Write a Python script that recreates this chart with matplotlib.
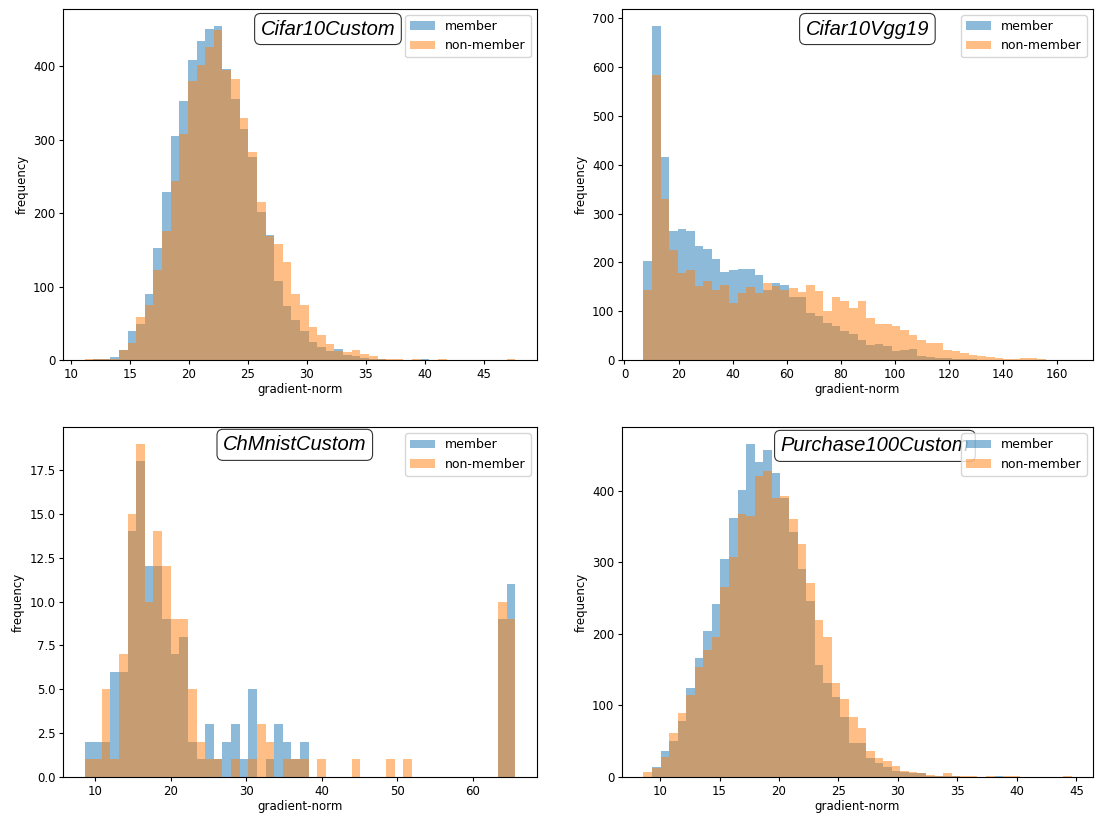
import numpy as np
import matplotlib
matplotlib.use("Agg")
import matplotlib.pyplot as plt

# ---------------- data ----------------
titles = ["Cifar10Custom", "Cifar10Vgg19", "ChMnistCustom", "Purchase100Custom"]
series_labels = ["member", "non-member"]
x_label = "gradient-norm"
y_label = "frequency"

# bin ranges (first edge, last edge), 50 bins each
range_cifar10custom = (11.16, 47.67)
range_cifar10vgg19 = (7.0, 165.5)
range_chmnist = (8.55, 65.65)
range_purchase = (8.6, 44.6)

member_cifar10custom = [0, 1, 2, 4, 14, 40, 49, 90, 152, 228, 305, 353, 408, 434, 451, 455, 396, 355, 314, 276,
                        202, 170, 108, 74, 55, 40, 24, 18, 12, 15, 7, 5, 3, 2, 1, 0, 0, 0, 0, 1,
                        0, 0, 0, 0, 0, 0, 0, 0, 0, 0]
nonmember_cifar10custom = [1, 1, 1, 2, 13, 23, 58, 75, 123, 176, 243, 307, 380, 401, 426, 449, 395, 383, 330, 283,
                           215, 169, 158, 133, 90, 75, 45, 34, 22, 12, 11, 13, 8, 5, 2, 1, 1, 0, 1, 0,
                           0, 1, 0, 0, 0, 0, 0, 0, 0, 1]

member_cifar10vgg19 = [202, 685, 417, 264, 269, 264, 233, 228, 207, 180, 184, 187, 187, 174, 144, 158, 154, 129, 129, 97,
                       91, 75, 69, 60, 54, 40, 30, 32, 28, 18, 20, 22, 8, 7, 5, 4, 3, 2, 2, 1,
                       1, 0, 0, 0, 0, 0, 0, 0, 0, 1]
nonmember_cifar10vgg19 = [144, 583, 329, 226, 178, 185, 151, 161, 144, 153, 117, 137, 149, 137, 158, 151, 144, 148, 139, 154,
                          142, 100, 129, 120, 106, 120, 86, 74, 74, 70, 62, 52, 42, 34, 34, 20, 19, 15, 10, 8,
                          6, 4, 2, 3, 5, 4, 2, 0, 0, 0]

member_chmnist = [2, 2, 2, 6, 6, 14, 18, 12, 12, 9, 7, 8, 2, 1, 3, 1, 2, 3, 1, 5,
                  0, 1, 3, 2, 1, 2, 0, 0, 0, 0, 0, 0, 0, 0, 0, 0, 0, 0, 0, 0,
                  0, 0, 0, 0, 0, 0, 0, 0, 9, 11]
nonmember_chmnist = [1, 1, 5, 1, 7, 15, 19, 10, 14, 12, 9, 9, 5, 2, 1, 1, 0, 1, 0, 1,
                     3, 2, 0, 1, 1, 1, 0, 1, 0, 0, 0, 1, 0, 0, 0, 1, 0, 1, 0, 0,
                     0, 0, 0, 0, 0, 0, 0, 0, 10, 9]

member_purchase = [0, 14, 37, 50, 78, 125, 166, 204, 242, 305, 362, 401, 466, 441, 457, 425, 390, 343, 291, 246,
                   157, 132, 112, 84, 47, 47, 26, 19, 14, 9, 7, 6, 6, 2, 1, 1, 1, 0, 0, 0,
                   0, 1, 0, 0, 0, 0, 0, 0, 0, 0]
nonmember_purchase = [7, 12, 28, 62, 90, 114, 154, 177, 196, 266, 308, 368, 365, 421, 428, 390, 393, 361, 326, 271,
                      220, 196, 132, 109, 84, 68, 37, 26, 23, 16, 9, 7, 6, 3, 1, 5, 2, 1, 1, 0,
                      1, 0, 1, 1, 0, 0, 0, 0, 0, 1]

xticks_cifar10custom = [10, 15, 20, 25, 30, 35, 40, 45]
xticks_cifar10vgg19 = [0, 20, 40, 60, 80, 100, 120, 140, 160]
xticks_chmnist = [10, 20, 30, 40, 50, 60]
xticks_purchase = [10, 15, 20, 25, 30, 35, 40, 45]

panels = [
    (range_cifar10custom, member_cifar10custom, nonmember_cifar10custom, xticks_cifar10custom),
    (range_cifar10vgg19, member_cifar10vgg19, nonmember_cifar10vgg19, xticks_cifar10vgg19),
    (range_chmnist, member_chmnist, nonmember_chmnist, xticks_chmnist),
    (range_purchase, member_purchase, nonmember_purchase, xticks_purchase),
]

# ---------------- layout / style ----------------
W, H = 1096, 817
fig = plt.figure(figsize=(W / 100, H / 100), dpi=100)

# axes boxes in pixels: left, top, right, bottom
boxes = [(63, 9, 537, 360), (622, 9, 1093, 360), (63, 427, 537, 777), (622, 427, 1093, 777)]
title_pos = [(0.559, 0.943), (0.521, 0.943), (0.489, 0.949), (0.537, 0.946)]

for i, (rng, mem, non, xt) in enumerate(panels):
    l, t, r, b = boxes[i]
    ax = fig.add_axes([l / W, (H - b) / H, (r - l) / W, (b - t) / H])
    edges = np.linspace(rng[0], rng[1], len(mem) + 1)
    centers = (edges[:-1] + edges[1:]) / 2
    ax.hist(centers, bins=edges, weights=mem, alpha=0.5, color="#1f77b4", label=series_labels[0])
    ax.hist(centers, bins=edges, weights=non, alpha=0.5, color="#ff7f0e", label=series_labels[1])
    ax.set_xticks(xt)
    ax.tick_params(labelsize=8.5, length=3, pad=2.5)
    ax.set_xlabel(x_label, fontsize=8.5, labelpad=2)
    ax.set_ylabel(y_label, fontsize=8.5, labelpad=3)
    ax.legend(loc="upper right", fontsize=9)
    tx, ty = title_pos[i]
    ax.text(tx, ty, titles[i], transform=ax.transAxes, ha="center", va="center",
            fontsize=14.5, fontstyle="italic", family=["Liberation Sans", "DejaVu Sans"],
            bbox=dict(boxstyle="round,pad=0.3", facecolor="white", edgecolor="#333333", linewidth=0.8))

fig.savefig("out.png", dpi=100)
